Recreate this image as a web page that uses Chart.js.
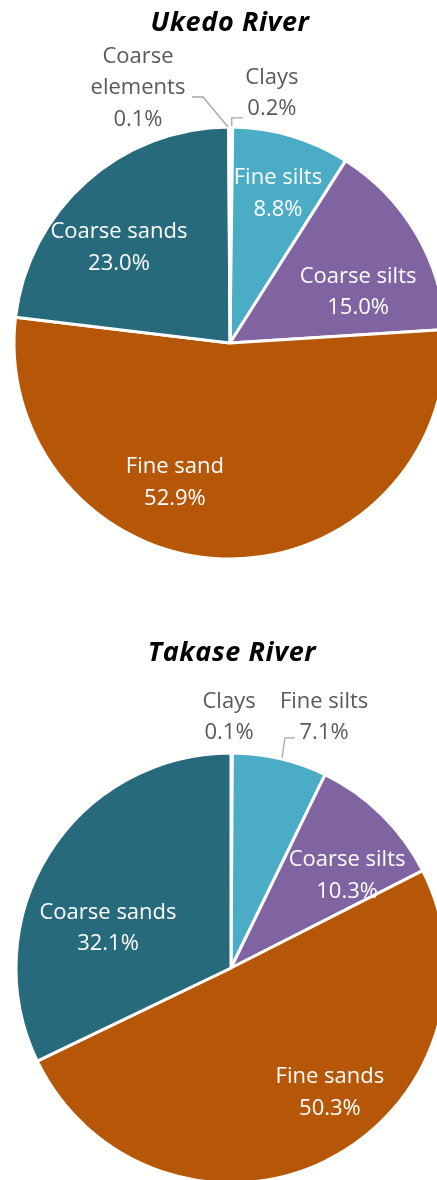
<!DOCTYPE html>
<html>
<head>
<meta charset="utf-8">
<script src="https://cdn.jsdelivr.net/npm/chart.js@4/dist/chart.umd.min.js"></script>
<style>
  html, body { margin: 0; padding: 0; background: #fff; width: 437px; height: 1180px; overflow: hidden; }
  .box { position: absolute; left: 0; }
</style>
</head>
<body>
<div class="box" id="boxA" style="top:0;width:460px;height:600px"><canvas id="ukedo"></canvas></div>
<div class="box" id="boxB" style="top:590px;width:462px;height:620px"><canvas id="takase"></canvas></div>
<script>
// Grain-size fractions (%) for each river, clockwise from 12 o'clock
const ukedoCategories = ['Clays', 'Fine silts', 'Coarse silts', 'Fine sand', 'Coarse sands', 'Coarse elements'];
const ukedoValues = [0.2, 8.8, 15.0, 52.9, 23.0, 0.1];

const takaseCategories = ['Clays', 'Fine silts', 'Coarse silts', 'Fine sands', 'Coarse sands'];
const takaseValues = [0.1, 7.1, 10.3, 50.3, 32.1];

const classColors = {
  'Clays': '#9BBB59',
  'Fine silts': '#4BACC6',
  'Coarse silts': '#8064A2',
  'Fine sand': '#B65708',
  'Fine sands': '#B65708',
  'Coarse sands': '#276A7C',
  'Coarse elements': '#F79646'
};

const FONT = '"Open Sans", "Noto Sans", sans-serif';
const BORDER = 3;

// Label placement, as offsets from the pie centre in units of the radius.
// `inside` labels are white; outside ones are grey and may carry a leader line.
const ukedoLabelLayout = [
  { fx: 0.194, fy: -1.157, inside: false, leader: [[0.008, -1.003], [0.008, -1.042], [0.06, -1.042]] },
  { fx: 0.222, fy: -0.690, inside: true },
  { fx: 0.593, fy: -0.236, inside: true },
  { fx: -0.255, fy: 0.648, inside: true },
  { fx: -0.514, fy: -0.440, inside: true },
  { fx: -0.426, fy: -1.181, inside: false, split: ['Coarse', 'elements'],
    leader: [[-0.176, -1.139], [-0.125, -1.139], [-0.009, -1.0]] }
];
const takaseLabelLayout = [
  { fx: -0.009, fy: -1.167, inside: false },
  { fx: 0.433, fy: -1.167, inside: false, leader: [[0.237, -0.977], [0.251, -1.070], [0.298, -1.070]] },
  { fx: 0.540, fy: -0.428, inside: true },
  { fx: 0.460, fy: 0.581, inside: true },
  { fx: -0.572, fy: -0.186, inside: true }
];

const sliceLabels = {
  id: 'sliceLabels',
  afterDatasetsDraw(chart, args, opts) {
    const ctx = chart.ctx;
    const meta = chart.getDatasetMeta(0);
    const arc0 = meta.data[0];
    const cx = arc0.x, cy = arc0.y, R = arc0.outerRadius;
    const values = chart.data.datasets[0].data;
    ctx.save();
    ctx.font = '22px ' + FONT;
    ctx.textAlign = 'center';
    ctx.textBaseline = 'middle';
    opts.layout.forEach((lay, i) => {
      const name = chart.data.labels[i];
      const lines = (lay.split || [name]).concat([values[i].toFixed(1) + '%']);
      if (lay.leader) {
        ctx.beginPath();
        lay.leader.forEach((p, k) => {
          const px = cx + p[0] * R, py = cy + p[1] * R;
          if (k === 0) ctx.moveTo(px, py); else ctx.lineTo(px, py);
        });
        ctx.strokeStyle = '#A6A6A6';
        ctx.lineWidth = 1.3;
        ctx.stroke();
      }
      ctx.fillStyle = lay.inside ? '#FFFFFF' : '#595959';
      const x = cx + lay.fx * R, y = cy + lay.fy * R;
      const lh = 31.5;
      const top = y - (lines.length - 1) * lh / 2;
      lines.forEach((t, k) => ctx.fillText(t, x, top + k * lh));
    });
    ctx.restore();
  }
};

const riverTitle = {
  id: 'riverTitle',
  afterDraw(chart, args, opts) {
    const ctx = chart.ctx;
    ctx.save();
    ctx.font = 'italic bold 27px ' + FONT;
    if ('letterSpacing' in ctx) ctx.letterSpacing = '0.6px';
    ctx.fillStyle = '#000000';
    ctx.textAlign = 'center';
    ctx.textBaseline = 'middle';
    ctx.fillText(opts.text, opts.x, opts.y);
    ctx.restore();
  }
};

function makePie(canvasId, labels, values, geom, layout, title) {
  const w = geom.width, h = geom.height;
  const r = geom.r + BORDER / 2;
  return new Chart(document.getElementById(canvasId), {
    type: 'pie',
    data: {
      labels: labels,
      datasets: [{
        data: values,
        backgroundColor: labels.map(l => classColors[l]),
        borderColor: '#FFFFFF',
        borderWidth: BORDER
      }]
    },
    options: {
      responsive: true,
      maintainAspectRatio: false,
      animation: false,
      rotation: 0,
      layout: {
        padding: {
          left: geom.cx - r,
          right: w - geom.cx - r,
          top: geom.cy - r,
          bottom: h - geom.cy - r
        }
      },
      plugins: {
        legend: { display: false },
        tooltip: { enabled: false },
        title: { display: false },
        sliceLabels: { layout: layout },
        riverTitle: title
      }
    },
    plugins: [sliceLabels, riverTitle]
  });
}

makePie('ukedo', ukedoCategories, ukedoValues,
  { width: 460, height: 600, cx: 230, cy: 343, r: 216 },
  ukedoLabelLayout, { text: 'Ukedo River', x: 230, y: 23 });

makePie('takase', takaseCategories, takaseValues,
  { width: 462, height: 620, cx: 231, cy: 378, r: 215 },
  takaseLabelLayout, { text: 'Takase River', x: 232, y: 63 });
</script>
</body>
</html>
